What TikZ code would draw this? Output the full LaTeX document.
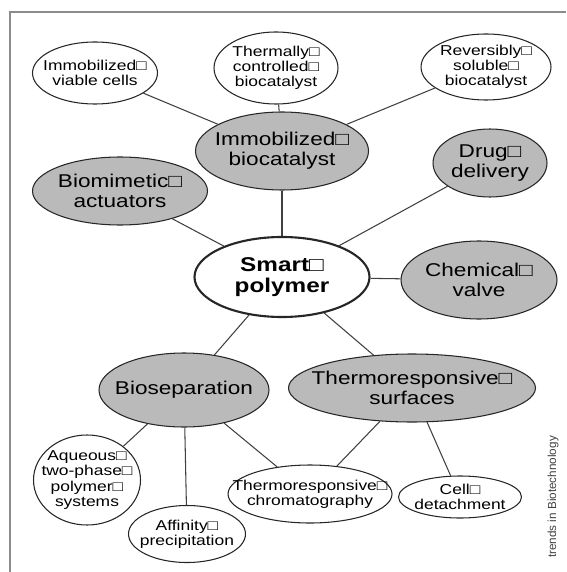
\documentclass[tikz,border=0pt]{standalone}
\usepackage{fontspec}
\setmainfont{Liberation Sans}
\newfontfamily\widesans[FakeStretch=1.22]{Liberation Sans}
\usetikzlibrary{shapes.geometric}

\begin{document}
\begin{tikzpicture}[
        x = 0.03cm, y = -0.03cm, % one unit = one pixel of the figure
        semithick, % line style
        leaf/.style = {fill = white, font = \widesans\fontsize{12.2}{13}\selectfont},
        topic/.style = {fill = black!27, font = \widesans\fontsize{15.8}{17}\selectfont},
        hub/.style = {fill = white, line width = 1.8pt,
            font = \widesans\bfseries\fontsize{17}{18}\selectfont},
        dims/.style 2 args = {minimum width = #1*0.03cm, minimum height = #2*0.03cm},
        every edge/.style = {draw = black!75, line width = 0.9pt}
    ]

    \useasboundingbox (0,0) rectangle (566,572);
    \draw[black!45, line width = 1.2pt] (10,572) -- (10,12) -- (566,12); % frame

    % the ellipse size comes from dims only, text may run close to the rim
    \tikzstyle{every node}=[draw = black!85, ellipse, align = center,
    inner xsep = -1cm, inner ysep = -0.25cm, line width = 0.9pt]

    % centre
    \node[hub, dims={175}{80}] (1) at (282,277) {Smart□\\polymer};

    % applications
    \node[topic, dims={173}{78}] (2) at (282,151) {Immobilized□\\biocatalyst};
    \node[topic, dims={175}{68}] (3) at (120,191) {Biomimetic□\\actuators};
    \node[topic, dims={114}{68}] (4) at (490,163) {Drug□\\delivery};
    \node[topic, dims={156}{78}] (5) at (479,280) {Chemical□\\valve};
    \node[topic, dims={170}{74}] (6) at (184,390) {Bioseparation};
    \node[topic, dims={247}{68}] (7) at (412,388) {Thermoresponsive□\\surfaces};

    % examples
    \node[leaf, dims={125}{62}] (8) at (95,73) {Immobilized□\\viable cells};
    \node[leaf, dims={124}{72}] (9) at (276,68) {Thermally□\\controlled□\\biocatalyst};
    \node[leaf, dims={130}{66}] (10) at (486,67) {Reversibly□\\soluble□\\biocatalyst};
    \node[leaf, dims={107}{90}] (11) at (87,480) {Aqueous□\\two-phase□\\polymer□\\systems};
    \node[leaf, dims={117}{57}] (12) at (187,534) {Affinity□\\precipitation};
    \node[leaf, dims={164}{58}] (13) at (310,494) {Thermoresponsive□\\chromatography};
    \node[leaf, dims={123}{42}] (14) at (460,497) {Cell□\\detachment};

    \node[draw = none, rectangle, inner sep = 0pt, rotate = 90, text = black!75,
    font = \fontsize{10}{12}\selectfont] (15) at (553,497) {trends in Biotechnology};

    \path[-] (1) edge (2); \path[-] (1) edge (3); \path[-] (1) edge (4);
    \path[-] (1) edge (5); \path[-] (1) edge (6); \path[-] (1) edge (7);
    \path[-] (2) edge (8); \path[-] (2) edge (9); \path[-] (2) edge (10);
    \path[-] (6) edge (11); \path[-] (6) edge (12); \path[-] (6) edge (13);
    \path[-] (7) edge (13); \path[-] (7) edge (14);

\end{tikzpicture}
\end{document}
